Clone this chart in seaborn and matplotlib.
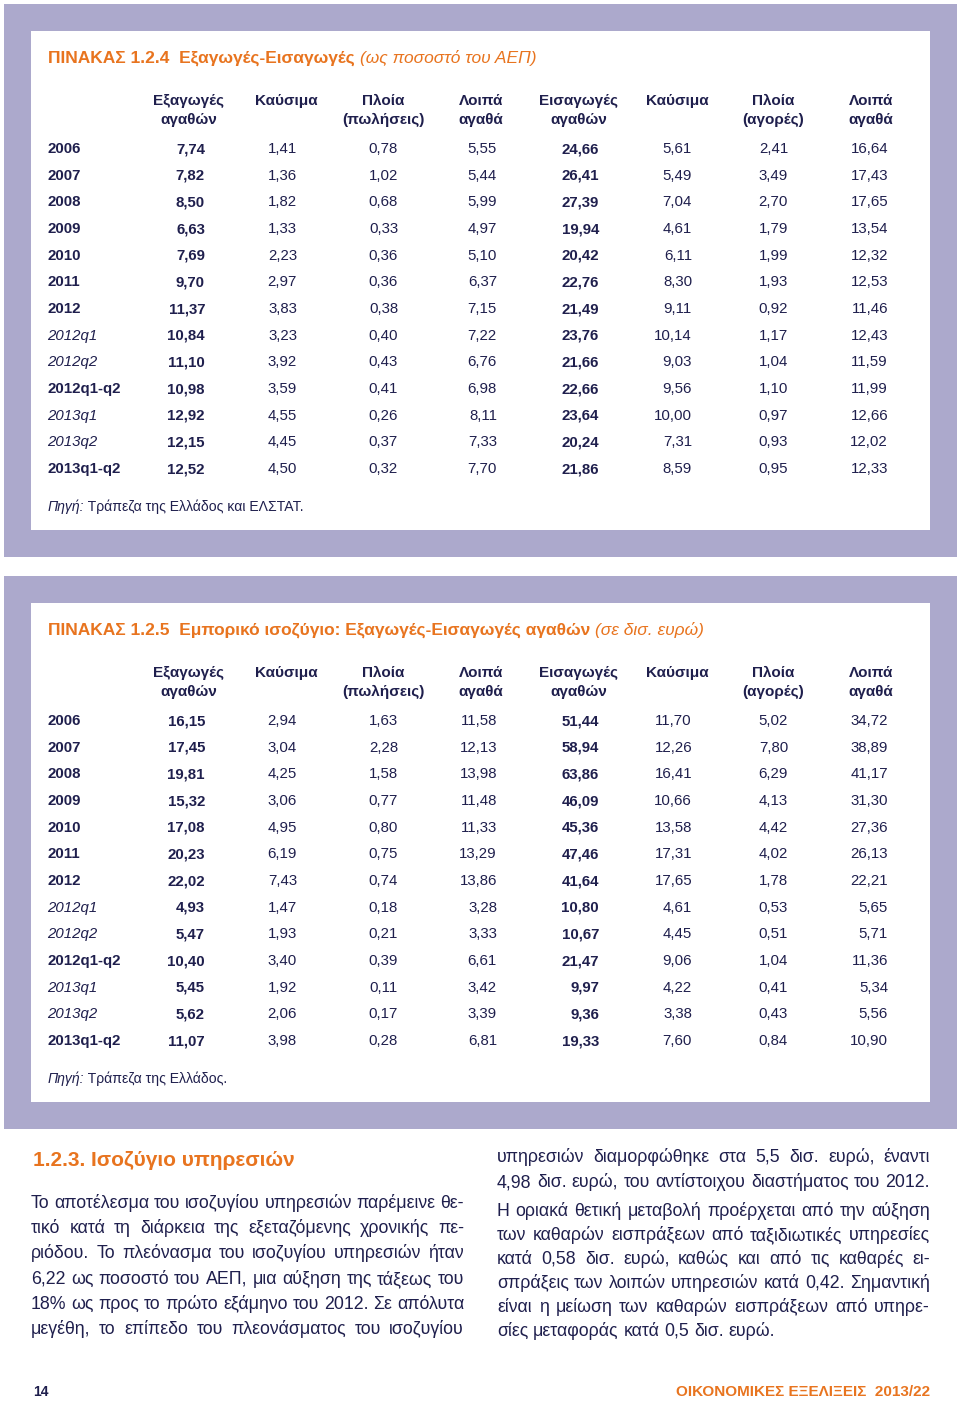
import matplotlib
matplotlib.use("Agg")
import pandas as pd
import matplotlib.pyplot as plt
import seaborn as sns
from matplotlib.patches import Rectangle

sns.set_theme(style="white")
plt.rcParams["font.family"] = ["Liberation Sans", "DejaVu Sans"]

NAVY = "#1f1f4d"
ORANGE = "#e8741f"
LAVENDER = "#aca9cc"

periods = ["2006", "2007", "2008", "2009", "2010", "2011", "2012",
           "2012q1", "2012q2", "2012q1-q2", "2013q1", "2013q2", "2013q1-q2"]
quarter_rows = ["2012q1", "2012q2", "2013q1", "2013q2"]

head_top = ["Εξαγωγές", "Καύσιμα", "Πλοία", "Λοιπά", "Εισαγωγές", "Καύσιμα", "Πλοία", "Λοιπά"]
head_bottom = ["αγαθών", "", "(πωλήσεις)", "αγαθά", "αγαθών", "", "(αγορές)", "αγαθά"]
bold_cols = [0, 4]

# ΠΙΝΑΚΑΣ 1.2.4 (% ΑΕΠ)
gdp_exports = [7.74, 7.82, 8.50, 6.63, 7.69, 9.70, 11.37, 10.84, 11.10, 10.98, 12.92, 12.15, 12.52]
gdp_fuel_exp = [1.41, 1.36, 1.82, 1.33, 2.23, 2.97, 3.83, 3.23, 3.92, 3.59, 4.55, 4.45, 4.50]
gdp_ships_exp = [0.78, 1.02, 0.68, 0.33, 0.36, 0.36, 0.38, 0.40, 0.43, 0.41, 0.26, 0.37, 0.32]
gdp_other_exp = [5.55, 5.44, 5.99, 4.97, 5.10, 6.37, 7.15, 7.22, 6.76, 6.98, 8.11, 7.33, 7.70]
gdp_imports = [24.66, 26.41, 27.39, 19.94, 20.42, 22.76, 21.49, 23.76, 21.66, 22.66, 23.64, 20.24, 21.86]
gdp_fuel_imp = [5.61, 5.49, 7.04, 4.61, 6.11, 8.30, 9.11, 10.14, 9.03, 9.56, 10.00, 7.31, 8.59]
gdp_ships_imp = [2.41, 3.49, 2.70, 1.79, 1.99, 1.93, 0.92, 1.17, 1.04, 1.10, 0.97, 0.93, 0.95]
gdp_other_imp = [16.64, 17.43, 17.65, 13.54, 12.32, 12.53, 11.46, 12.43, 11.59, 11.99, 12.66, 12.02, 12.33]

# ΠΙΝΑΚΑΣ 1.2.5 (δισ. ευρώ)
eur_exports = [16.15, 17.45, 19.81, 15.32, 17.08, 20.23, 22.02, 4.93, 5.47, 10.40, 5.45, 5.62, 11.07]
eur_fuel_exp = [2.94, 3.04, 4.25, 3.06, 4.95, 6.19, 7.43, 1.47, 1.93, 3.40, 1.92, 2.06, 3.98]
eur_ships_exp = [1.63, 2.28, 1.58, 0.77, 0.80, 0.75, 0.74, 0.18, 0.21, 0.39, 0.11, 0.17, 0.28]
eur_other_exp = [11.58, 12.13, 13.98, 11.48, 11.33, 13.29, 13.86, 3.28, 3.33, 6.61, 3.42, 3.39, 6.81]
eur_imports = [51.44, 58.94, 63.86, 46.09, 45.36, 47.46, 41.64, 10.80, 10.67, 21.47, 9.97, 9.36, 19.33]
eur_fuel_imp = [11.70, 12.26, 16.41, 10.66, 13.58, 17.31, 17.65, 4.61, 4.45, 9.06, 4.22, 3.38, 7.60]
eur_ships_imp = [5.02, 7.80, 6.29, 4.13, 4.42, 4.02, 1.78, 0.53, 0.51, 1.04, 0.41, 0.43, 0.84]
eur_other_imp = [34.72, 38.89, 41.17, 31.30, 27.36, 26.13, 22.21, 5.65, 5.71, 11.36, 5.34, 5.56, 10.90]

left_lines = [
    "Το αποτέλεσμα του ισοζυγίου υπηρεσιών παρέμεινε θε-",
    "τικό κατά τη διάρκεια της εξεταζόμενης χρονικής πε-",
    "ριόδου. Το πλεόνασμα του ισοζυγίου υπηρεσιών ήταν",
    "6,22 ως ποσοστό του ΑΕΠ, μια αύξηση της τάξεως του",
    "18% ως προς το πρώτο εξάμηνο του 2012. Σε απόλυτα",
    "μεγέθη, το επίπεδο του πλεονάσματος του ισοζυγίου",
]
right_lines = [
    "υπηρεσιών διαμορφώθηκε στα 5,5 δισ. ευρώ, έναντι",
    "4,98 δισ. ευρώ, του αντίστοιχου διαστήματος του 2012.",
    "Η οριακά θετική μεταβολή προέρχεται από την αύξηση",
    "των καθαρών εισπράξεων από ταξιδιωτικές υπηρεσίες",
    "κατά 0,58 δισ. ευρώ, καθώς και από τις καθαρές ει-",
    "σπράξεις των λοιπών υπηρεσιών κατά 0,42. Σημαντική",
    "είναι η μείωση των καθαρών εισπράξεων από υπηρε-",
    "σίες μεταφοράς κατά 0,5 δισ. ευρώ.",
]

cols = [" ".join(p for p in (a, b) if p) for a, b in zip(head_top, head_bottom)]
cols = [f"{i}:{c}" for i, c in enumerate(cols)]
gdp_table = pd.DataFrame(dict(zip(cols, [gdp_exports, gdp_fuel_exp, gdp_ships_exp, gdp_other_exp,
                                        gdp_imports, gdp_fuel_imp, gdp_ships_imp, gdp_other_imp])),
                         index=periods)
eur_table = pd.DataFrame(dict(zip(cols, [eur_exports, eur_fuel_exp, eur_ships_exp, eur_other_exp,
                                        eur_imports, eur_fuel_imp, eur_ships_imp, eur_other_imp])),
                         index=periods)

fig = plt.figure(figsize=(9.6, 14.02), dpi=100)
ax = fig.add_axes([0, 0, 1, 1])
ax.set_xlim(0, 960)
ax.set_ylim(1402, 0)
ax.axis("off")
renderer = fig.canvas.get_renderer()

col_right = [205, 297, 398, 497, 599, 692, 788, 888]
col_center = [189, 286, 383, 481, 579, 677, 773, 871]


def draw_table(df, dy, title_a, title_b, src_b):
    ax.add_patch(Rectangle((4, 4 + dy), 953, 553, color=LAVENDER, lw=0))
    ax.add_patch(Rectangle((31, 31 + dy), 899, 499, color="white", lw=0))
    t = ax.text(48, 63 + dy, title_a, color=ORANGE, fontsize=12.5, fontweight="bold", va="baseline")
    ax.annotate(title_b, xy=(1, 0), xycoords=t, color=ORANGE, fontsize=12.5,
                style="italic", va="bottom")
    for c, top, bot in zip(col_center, head_top, head_bottom):
        ax.text(c, 105 + dy, top, color=NAVY, fontsize=11, fontweight="bold", ha="center", va="baseline")
        if bot:
            ax.text(c, 124 + dy, bot, color=NAVY, fontsize=11, fontweight="bold", ha="center", va="baseline")
    for i, period in enumerate(df.index):
        y = 153 + dy + i * 26.67
        quarter = period in quarter_rows
        ax.text(47, y, period, color=NAVY, fontsize=10.8, va="baseline",
                fontweight="normal" if quarter else "bold",
                style="italic" if quarter else "normal")
        for j, col in enumerate(df.columns):
            ax.text(col_right[j], y, f"{df.loc[period, col]:.2f}".replace(".", ","),
                    color=NAVY, fontsize=10.8, ha="right", va="baseline",
                    fontweight="bold" if j in bold_cols else "normal")
    s = ax.text(48, 511 + dy, "Πηγή:", color=NAVY, fontsize=10.1, style="italic", va="baseline")
    ax.annotate(src_b, xy=(1, 0), xycoords=s, color=NAVY, fontsize=10.1, va="bottom")


draw_table(gdp_table, 0, "ΠΙΝΑΚΑΣ 1.2.4  Εξαγωγές-Εισαγωγές ", "(ως ποσοστό του ΑΕΠ)",
           " Τράπεζα της Ελλάδος και ΕΛΣΤΑΤ.")
draw_table(eur_table, 572, "ΠΙΝΑΚΑΣ 1.2.5  Εμπορικό ισοζύγιο: Εξαγωγές-Εισαγωγές αγαθών ",
           "(σε δισ. ευρώ)", " Τράπεζα της Ελλάδος.")

BODY = 12.8


def justified(lines, x0, x1, ys, free_lines):
    for k, (line, y) in enumerate(zip(lines, ys)):
        words = line.split(" ")
        texts = [ax.text(0, y, w, color=NAVY, fontsize=BODY, va="baseline") for w in words]
        widths = [t.get_window_extent(renderer).width for t in texts]
        if k in free_lines or len(words) < 2:
            gap = BODY * 0.278 * 100 / 72
        else:
            gap = (x1 - x0 - sum(widths)) / (len(words) - 1)
        x = x0
        for t, w in zip(texts, widths):
            t.set_x(x)
            x += w + gap


ax.text(33, 1166, "1.2.3. Ισοζύγιο υπηρεσιών", color=ORANGE, fontsize=15,
        fontweight="bold", va="baseline")
justified(left_lines, 31, 464, [1208, 1233, 1258, 1284, 1309, 1334], [])
justified(right_lines, 497, 930, [1162, 1187, 1216, 1240, 1264, 1288, 1312, 1336], [7])

ax.text(33, 1396, "14", color=NAVY, fontsize=10, fontweight="bold", va="baseline")
ax.text(930, 1396, "ΟΙΚΟΝΟΜΙΚΕΣ ΕΞΕΛΙΞΕΙΣ  2013/22", color=ORANGE, fontsize=11,
        fontweight="bold", ha="right", va="baseline")

fig.savefig("out.png", dpi=100, facecolor="white")
